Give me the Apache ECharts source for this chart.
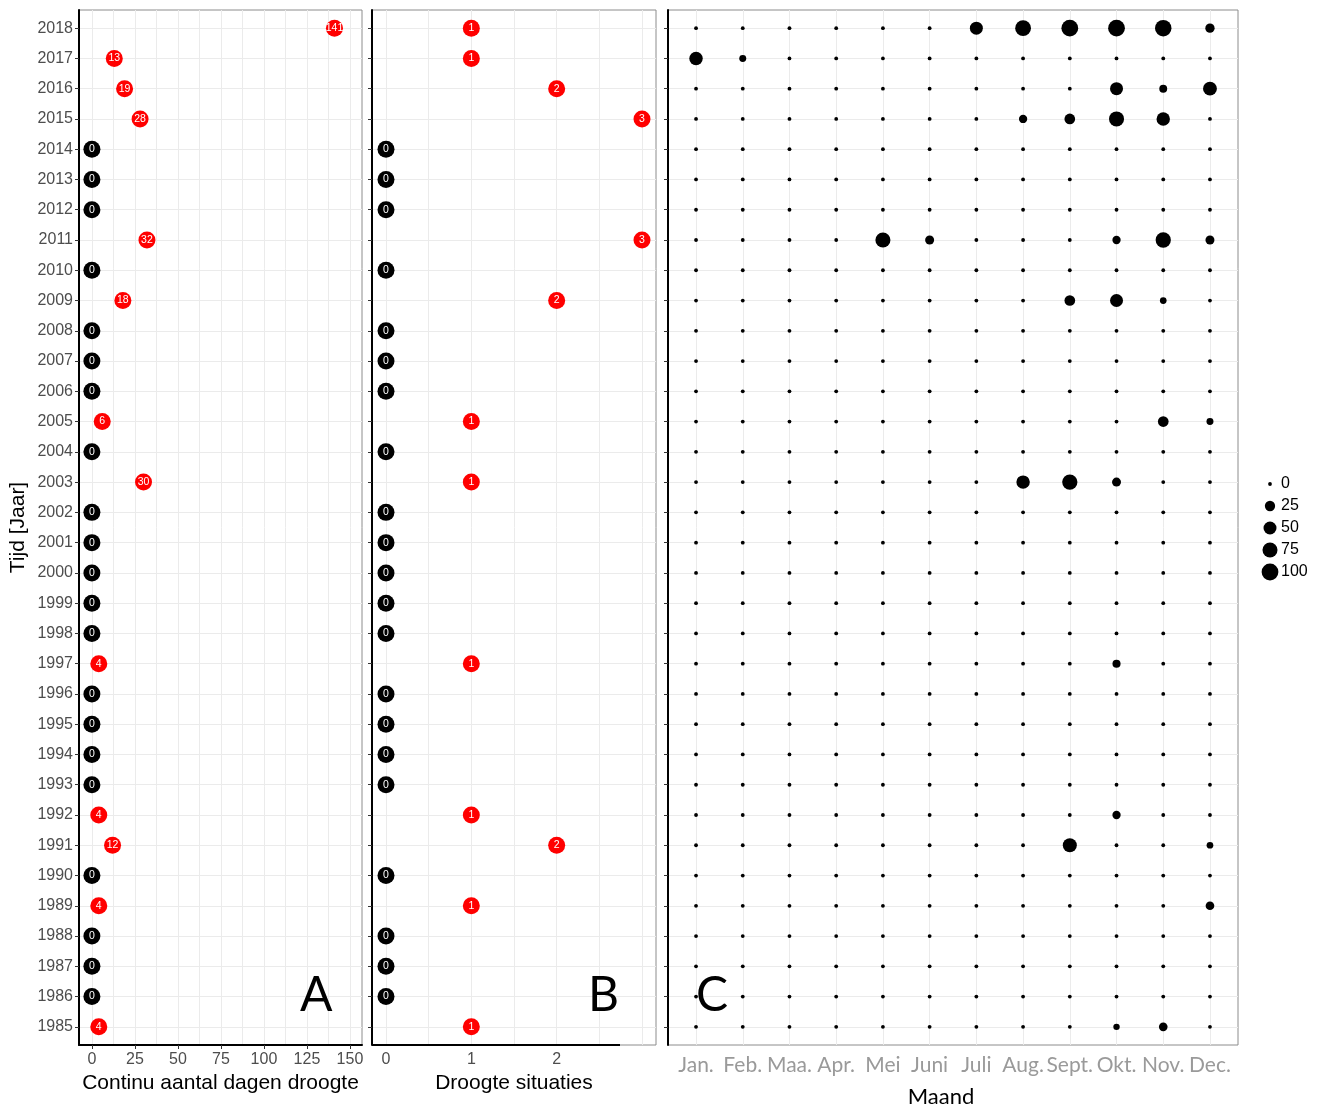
<!DOCTYPE html>
<html>
<head>
<meta charset="utf-8">
<script src="https://cdn.jsdelivr.net/npm/echarts@6/dist/echarts.min.js"></script>
<style>
  html, body { margin: 0; padding: 0; background: #fff; }
  #chart { width: 1325px; height: 1108px; }
</style>
</head>
<body>
<div id="chart"></div>
<script>
// ---- data -------------------------------------------------------------
const years = [1985, 1986, 1987, 1988, 1989, 1990, 1991, 1992, 1993, 1994,
               1995, 1996, 1997, 1998, 1999, 2000, 2001, 2002, 2003, 2004,
               2005, 2006, 2007, 2008, 2009, 2010, 2011, 2012, 2013, 2014,
               2015, 2016, 2017, 2018];

// A: longest continuous drought spell (days) per year
const continuousDays = [4, 0, 0, 0, 4, 0, 12, 4, 0, 0,
                        0, 0, 4, 0, 0, 0, 0, 0, 30, 0,
                        6, 0, 0, 0, 18, 0, 32, 0, 0, 0,
                        28, 19, 13, 141];

// B: number of drought situations per year
const droughtEvents = [1, 0, 0, 0, 1, 0, 2, 1, 0, 0,
                       0, 0, 1, 0, 0, 0, 0, 0, 1, 0,
                       1, 0, 0, 0, 2, 0, 3, 0, 0, 0,
                       3, 2, 1, 1];

// C: monthly drought share (0-100); years not listed are all zero
const monthLabels = ['Jan.', 'Feb.', 'Maa.', 'Apr.', 'Mei', 'Juni', 'Juli', 'Aug.', 'Sept.', 'Okt.', 'Nov.', 'Dec.'];
const monthTicks = [1, 2, 3, 4, 5, 6, 7, 8, 9, 10, 11, 12];
const m1985 = [0, 0, 0, 0, 0, 0, 0, 0, 0, 4, 14, 0];
const m1989 = [0, 0, 0, 0, 0, 0, 0, 0, 0, 0, 0, 14];
const m1991 = [0, 0, 0, 0, 0, 0, 0, 0, 62, 0, 0, 5];
const m1992 = [0, 0, 0, 0, 0, 0, 0, 0, 0, 12, 0, 0];
const m1997 = [0, 0, 0, 0, 0, 0, 0, 0, 0, 11, 0, 0];
const m2003 = [0, 0, 0, 0, 0, 0, 0, 55, 78, 16, 0, 0];
const m2005 = [0, 0, 0, 0, 0, 0, 0, 0, 0, 0, 28, 6];
const m2009 = [0, 0, 0, 0, 0, 0, 0, 0, 28, 50, 5, 0];
const m2011 = [0, 0, 0, 0, 75, 16, 0, 0, 0, 12, 78, 16];
const m2015 = [0, 0, 0, 0, 0, 0, 0, 12, 28, 75, 55, 0];
const m2016 = [0, 0, 0, 0, 0, 0, 0, 0, 0, 50, 10, 60];
const m2017 = [55, 6, 0, 0, 0, 0, 0, 0, 0, 0, 0, 0];
const m2018 = [0, 0, 0, 0, 0, 0, 50, 85, 100, 100, 95, 18];
const monthlyRows = [[1985, m1985], [1989, m1989], [1991, m1991], [1992, m1992],
                     [1997, m1997], [2003, m2003], [2005, m2005], [2009, m2009],
                     [2011, m2011], [2015, m2015], [2016, m2016], [2017, m2017],
                     [2018, m2018]];

// axis ticks and grid lines
const daysTicks = [0, 25, 50, 75, 100, 125, 150];
const daysGrid = [0, 12.5, 25, 37.5, 50, 62.5, 75, 87.5, 100, 112.5, 125, 137.5, 150];
const eventTicks = [0, 1, 2];
const eventGrid = [0, 0.5, 1, 1.5, 2, 2.5, 3];
const legendValues = [0, 25, 50, 75, 100];

// ---- helpers ----------------------------------------------------------
const TICK_FONT = "'Liberation Sans', Arial, sans-serif";
const CAL_FONT = "Lato, 'Open Sans', sans-serif";
const GRID_LINE = { show: true, lineStyle: { color: '#ebebeb', width: 1 } };
const BLACK_AXIS = { show: true, onZero: false, lineStyle: { color: '#000', width: 2 } };
const TICK = { show: true, length: 4, lineStyle: { color: '#333', width: 1 } };

const sizeOf = v => 3.8 + 13 * Math.sqrt(v / 100);

const pointsA = years.map((y, i) => [continuousDays[i], y]);
const pointsB = years.map((y, i) => [droughtEvents[i], y]);
const pointsC = [];
years.forEach(y => {
  const row = monthlyRows.find(r => r[0] === y);
  monthTicks.forEach((m, j) => pointsC.push([m, y, row ? row[1][j] : 0]));
});

const badgeSeries = (data, xi) => ({
  type: 'scatter',
  xAxisIndex: xi,
  yAxisIndex: xi,
  data: data,
  symbolSize: 17,
  itemStyle: { color: p => (p.value[0] > 0 ? '#ff0000' : '#000000'), opacity: 1 },
  label: {
    show: true, position: 'inside', color: '#fff',
    fontFamily: TICK_FONT, fontSize: 10.5,
    formatter: p => String(p.value[0])
  },
  emphasis: { disabled: true },
  z: 5
});

const yearAxis = (gi, labels) => ({
  type: 'value', gridIndex: gi, min: 1984.4, max: 2018.6,
  axisLine: BLACK_AXIS,
  axisTick: Object.assign({ customValues: years }, TICK),
  axisLabel: {
    show: labels, customValues: years, margin: 6,
    color: '#4d4d4d', fontFamily: TICK_FONT, fontSize: 16,
    formatter: v => String(v)
  },
  splitLine: GRID_LINE
});

const chart = echarts.init(document.getElementById('chart'), null, { renderer: 'canvas' });

chart.setOption({
  backgroundColor: '#fff',
  animation: false,
  grid: [
    { left: 79, top: 10, width: 283, height: 1035, show: true, borderColor: '#8c8c8c', borderWidth: 1, outerBoundsMode: 'none' },
    { left: 372, top: 10, width: 284, height: 1035, show: true, borderColor: '#8c8c8c', borderWidth: 1, outerBoundsMode: 'none' },
    { left: 668, top: 10, width: 570, height: 1035, show: true, borderColor: '#8c8c8c', borderWidth: 1, outerBoundsMode: 'none' },
    { left: 1260, top: 473, width: 20, height: 110, outerBoundsMode: 'none' },
    // tick-only overlay axis for panel A
    { left: 79, top: 10, width: 283, height: 1035, outerBoundsMode: 'none' }
  ],
  xAxis: [
    {
      type: 'value', gridIndex: 0, min: -7.5, max: 157,
      axisLine: BLACK_AXIS,
      axisTick: { show: false, customValues: daysGrid },
      axisLabel: {
        customValues: daysTicks, margin: 7,
        color: '#4d4d4d', fontFamily: TICK_FONT, fontSize: 16
      },
      splitLine: GRID_LINE,
      name: 'Continu aantal dagen droogte', nameLocation: 'middle', nameGap: 27,
      nameTextStyle: { color: '#000', fontFamily: TICK_FONT, fontSize: 21 }
    },
    {
      type: 'value', gridIndex: 1, min: -0.164, max: 3.164,
      axisLine: { show: false },
      axisTick: Object.assign({ customValues: eventGrid }, TICK, { show: false }),
      axisLabel: {
        customValues: eventTicks, margin: 7,
        color: '#4d4d4d', fontFamily: TICK_FONT, fontSize: 16
      },
      splitLine: GRID_LINE,
      name: 'Droogte situaties', nameLocation: 'middle', nameGap: 27,
      nameTextStyle: { color: '#000', fontFamily: TICK_FONT, fontSize: 21 }
    },
    {
      type: 'value', gridIndex: 2, min: 0.4, max: 12.6,
      axisLine: { show: false },
      axisTick: { show: false, customValues: monthTicks },
      axisLabel: {
        customValues: monthTicks, margin: 10,
        color: '#9a9a9a', fontFamily: CAL_FONT, fontSize: 21,
        formatter: v => monthLabels[Math.round(v) - 1]
      },
      splitLine: GRID_LINE,
      name: 'Maand', nameLocation: 'middle', nameGap: 41,
      nameTextStyle: { color: '#000', fontFamily: CAL_FONT, fontSize: 22, padding: [0, 24, 0, 0] }
    },
    { type: 'value', gridIndex: 3, min: -1, max: 1, show: false },
    {
      type: 'value', gridIndex: 4, min: -7.5, max: 157,
      axisLine: { show: false },
      axisTick: Object.assign({ customValues: daysTicks }, TICK),
      axisLabel: { show: false },
      splitLine: { show: false }
    }
  ],
  yAxis: [
    Object.assign(yearAxis(0, true), {
      name: 'Tijd [Jaar]', nameLocation: 'middle', nameGap: 50,
      nameTextStyle: { color: '#000', fontFamily: TICK_FONT, fontSize: 21 }
    }),
    yearAxis(1, false),
    yearAxis(2, false),
    {
      type: 'category', gridIndex: 3, inverse: true, show: false,
      data: legendValues.map(String)
    },
    { type: 'value', gridIndex: 4, min: 1984.4, max: 2018.6, show: false }
  ],
  series: [
    badgeSeries(pointsA, 0),
    badgeSeries(pointsB, 1),
    {
      type: 'scatter', xAxisIndex: 2, yAxisIndex: 2,
      data: pointsC,
      symbolSize: v => sizeOf(v[2]),
      itemStyle: { color: '#000', opacity: 1 },
      emphasis: { disabled: true },
      z: 5
    },
    {
      type: 'scatter', xAxisIndex: 3, yAxisIndex: 3,
      data: legendValues.map(v => [0, String(v), v]),
      symbolSize: v => sizeOf(v[2]),
      itemStyle: { color: '#000', opacity: 1 },
      label: {
        show: true, position: 'inside', align: 'left', offset: [11, 0],
        color: '#000', fontFamily: TICK_FONT, fontSize: 16,
        formatter: p => String(p.value[2])
      },
      emphasis: { disabled: true }
    }
  ],
  graphic: [
    // bottom axis line of panel B (stops short of the panel edge)
    { type: 'line', z: 100, shape: { x1: 372, y1: 1045, x2: 620, y2: 1045 }, style: { stroke: '#000', lineWidth: 2 } },
    { type: 'text', z: 100, left: 300, top: 972, style: { text: 'A', fontFamily: CAL_FONT, fontSize: 48, fill: '#000' } },
    { type: 'text', z: 100, left: 588, top: 972, style: { text: 'B', fontFamily: CAL_FONT, fontSize: 48, fill: '#000' } },
    { type: 'text', z: 100, left: 696, top: 972, style: { text: 'C', fontFamily: CAL_FONT, fontSize: 48, fill: '#000' } }
  ]
});
</script>
</body>
</html>
